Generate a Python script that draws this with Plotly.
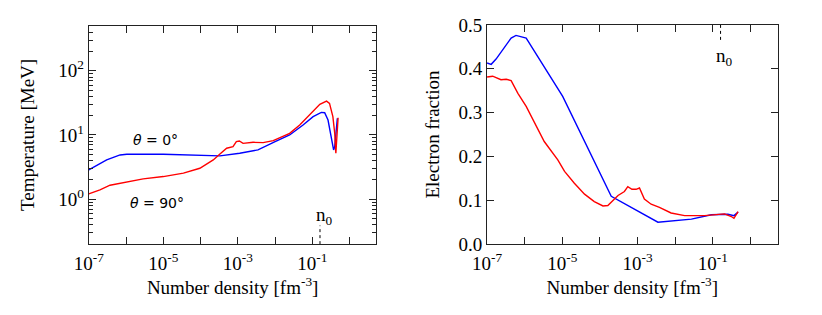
import plotly.graph_objects as go

# ---- data (log10 of number density in fm^-3) ----
t_blue_logn = [-7.0, -6.52, -6.16, -5.98, -5.0, -4.02, -3.48, -2.95, -2.46, -2.0, -1.61, -1.25, -0.98, -0.76, -0.67, -0.58, -0.49, -0.43, -0.40, -0.36, -0.33]
t_blue_T = [2.86, 4.09, 4.89, 5.0, 5.0, 4.77, 4.72, 5.19, 5.85, 7.9, 10.0, 14.3, 19.3, 22.5, 22.2, 17.1, 8.4, 5.85, 6.6, 13.5, 18.2]

t_red_logn = [-7.0, -6.70, -6.43, -6.29, -5.98, -5.80, -5.54, -5.0, -4.46, -4.02, -3.66, -3.48, -3.30, -3.13, -3.04, -2.96, -2.86, -2.59, -2.32, -2.05, -1.61, -1.34, -1.07, -0.80, -0.62, -0.54, -0.45, -0.40, -0.37, -0.34, -0.31]
t_red_T = [1.21, 1.40, 1.65, 1.71, 1.82, 1.93, 2.07, 2.25, 2.54, 3.03, 4.08, 5.07, 6.21, 6.59, 7.87, 8.07, 7.41, 7.69, 7.60, 8.17, 10.6, 14.3, 20.5, 30.0, 33.7, 31.0, 19.3, 10.6, 5.2, 8.4, 18.6]

y_blue_logn = [-7.0, -6.89, -6.76, -6.58, -6.36, -6.23, -6.10, -5.96, -4.99, -3.70, -2.46, -1.57, -1.04, -0.60, -0.44, -0.33]
y_blue_Ye = [0.413, 0.410, 0.422, 0.443, 0.470, 0.476, 0.473, 0.470, 0.337, 0.109, 0.050, 0.057, 0.067, 0.068, 0.065, 0.073]

y_red_logn = [-7.0, -6.85, -6.63, -6.49, -6.36, -6.18, -5.96, -5.87, -5.74, -5.48, -5.12, -4.94, -4.68, -4.41, -4.15, -3.92, -3.79, -3.66, -3.52, -3.35, -3.26, -3.15, -3.04, -2.95, -2.82, -2.64, -2.42, -2.11, -1.75, -1.22, -0.69, -0.51, -0.44, -0.33]
y_red_Ye = [0.381, 0.383, 0.375, 0.376, 0.373, 0.344, 0.314, 0.299, 0.280, 0.234, 0.192, 0.166, 0.139, 0.114, 0.097, 0.087, 0.088, 0.099, 0.111, 0.120, 0.131, 0.125, 0.125, 0.128, 0.103, 0.091, 0.084, 0.071, 0.065, 0.065, 0.069, 0.063, 0.059, 0.074]

n0 = 0.16
x_major = [1e-7, 1e-5, 1e-3, 1e-1]
x_major_text = ["10<sup>-7</sup>", "10<sup>-5</sup>", "10<sup>-3</sup>", "10<sup>-1</sup>"]
x_minor = [1e-6, 1e-4, 1e-2, 1e0]
t_major = [1, 10, 100]
t_major_text = ["10<sup>0</sup>", "10<sup>1</sup>", "10<sup>2</sup>"]
t_minor = [m * 10 ** e for e in (-1, 0, 1, 2) for m in range(2, 10)]
ye_ticks = [0.0, 0.1, 0.2, 0.3, 0.4, 0.5]

BLUE = "#0000ff"
RED = "#ff0000"
SERIF = "Liberation Serif"
TICK_SIZE = 19
TITLE_SIZE = 19

fig = go.Figure()
lw = 1.4
fig.add_trace(go.Scatter(x=[10 ** v for v in t_blue_logn], y=t_blue_T, mode="lines",
                         line=dict(color=BLUE, width=lw), xaxis="x", yaxis="y", showlegend=False))
fig.add_trace(go.Scatter(x=[10 ** v for v in t_red_logn], y=t_red_T, mode="lines",
                         line=dict(color=RED, width=lw), xaxis="x", yaxis="y", showlegend=False))
fig.add_trace(go.Scatter(x=[n0, n0], y=[10 ** -0.7, 10 ** -0.41], mode="lines",
                         line=dict(color="black", width=1, dash="dot"), xaxis="x", yaxis="y", showlegend=False))

fig.add_trace(go.Scatter(x=[10 ** v for v in y_blue_logn], y=y_blue_Ye, mode="lines",
                         line=dict(color=BLUE, width=lw), xaxis="x2", yaxis="y2", showlegend=False))
fig.add_trace(go.Scatter(x=[10 ** v for v in y_red_logn], y=y_red_Ye, mode="lines",
                         line=dict(color=RED, width=lw), xaxis="x2", yaxis="y2", showlegend=False))
fig.add_trace(go.Scatter(x=[n0, n0], y=[0.5, 0.46], mode="lines",
                         line=dict(color="black", width=1, dash="dot"), xaxis="x2", yaxis="y2", showlegend=False))

axis_common = dict(showline=True, linecolor="#222222", linewidth=1.2, mirror="allticks",
                   ticks="inside", tickcolor="#222222", ticklen=7, tickwidth=1,
                   showgrid=False, zeroline=False, automargin=False,
                   tickfont=dict(family=SERIF, size=TICK_SIZE, color="black"))

fig.update_layout(
    width=822, height=315,
    margin=dict(l=0, r=0, t=0, b=0),
    paper_bgcolor="white", plot_bgcolor="white",
    xaxis=dict(axis_common, type="log", range=[-7, 0.72], domain=[0.108, 0.458], anchor="y",
               tickmode="array", tickvals=x_major, ticktext=x_major_text, ticklabelstandoff=2,
               minor=dict(tickmode="array", tickvals=x_minor, ticks="inside", ticklen=7, tickcolor="#222222"),
               title=dict(text="Number density [fm<sup>-3</sup>]", font=dict(family=SERIF, size=TITLE_SIZE, color="black"), standoff=0)),
    yaxis=dict(axis_common, type="log", range=[-0.7, 2.7], domain=[0.225, 0.918], anchor="x",
               tickmode="array", tickvals=t_major, ticktext=t_major_text,
               minor=dict(tickmode="array", tickvals=t_minor, ticks="inside", ticklen=4, tickcolor="#222222"),
               title=dict(text="Temperature [MeV]", font=dict(family=SERIF, size=TITLE_SIZE, color="black"), standoff=18)),
    xaxis2=dict(axis_common, type="log", range=[-7, 0.72], domain=[0.5925, 0.946], anchor="y2",
                tickmode="array", tickvals=x_major, ticktext=x_major_text, ticklabelstandoff=2,
                minor=dict(tickmode="array", tickvals=x_minor, ticks="inside", ticklen=7, tickcolor="#222222"),
                title=dict(text="Number density [fm<sup>-3</sup>]", font=dict(family=SERIF, size=TITLE_SIZE, color="black"), standoff=0)),
    yaxis2=dict(axis_common, range=[0, 0.5], domain=[0.225, 0.921], anchor="x2",
                tickmode="array", tickvals=ye_ticks, tickformat=".1f",
                title=dict(text="Electron fraction", font=dict(family=SERIF, size=TITLE_SIZE, color="black"), standoff=13)),
    annotations=[
        dict(text="<i>θ</i> = 0°", xref="paper", yref="paper", x=155 / 822, y=1 - 140 / 315,
             xanchor="center", yanchor="middle",
             showarrow=False, font=dict(family="DejaVu Sans", size=14, color="black")),
        dict(text="<i>θ</i> = 90°", xref="paper", yref="paper", x=157 / 822, y=1 - 203 / 315,
             xanchor="center", yanchor="middle",
             showarrow=False, font=dict(family="DejaVu Sans", size=14, color="black")),
        dict(text="n<sub>0</sub>", xref="paper", yref="paper", x=324 / 822, y=1 - 230 / 315,
             xanchor="center", yanchor="bottom",
             showarrow=False, font=dict(family=SERIF, size=19, color="black")),
        dict(text="n<sub>0</sub>", xref="paper", yref="paper", x=724 / 822, y=1 - 43 / 315,
             xanchor="center", yanchor="top",
             showarrow=False, font=dict(family=SERIF, size=19, color="black")),
    ],
)

fig.write_html("out.html", config={"displayModeBar": False},
               post_script="document.body.style.margin='0';")
